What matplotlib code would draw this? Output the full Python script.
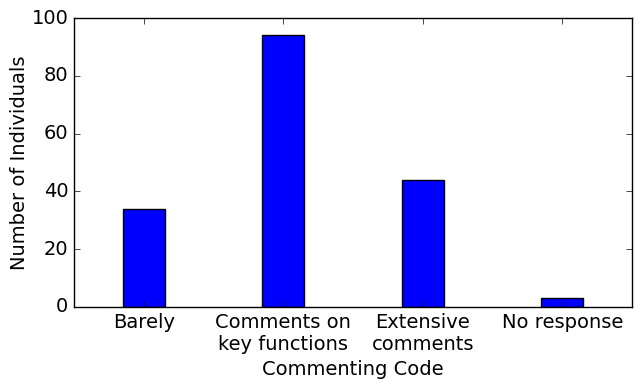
import matplotlib
matplotlib.use('Agg')
import matplotlib.pyplot as plt

categories = ['Barely', 'Comments on\nkey functions', 'Extensive\ncomments', 'No response']
counts = [34, 94, 44, 3]

plt.style.use('classic')

fig = plt.figure(figsize=(6.41, 3.88), dpi=100)
ax = fig.add_axes([0.1154, 0.2088, 0.8706, 0.7448])

pos = range(len(categories))
ax.bar(pos, counts, width=0.3, align='center', color='b', edgecolor='k')
ax.set_xlim(-0.5, 3.5)
ax.set_ylim(0, 100)
ax.set_xticks(list(pos))
ax.set_xticklabels(categories, fontsize=14)
ax.tick_params(axis='y', labelsize=14)
ax.set_xlabel('Commenting Code', fontsize=14, labelpad=5)
ax.set_ylabel('Number of Individuals', fontsize=14, labelpad=2)

fig.savefig('out.png', dpi=100)
